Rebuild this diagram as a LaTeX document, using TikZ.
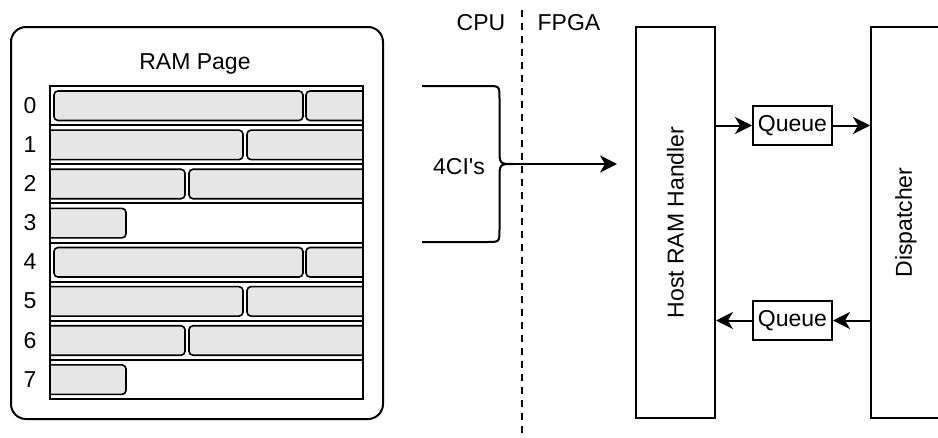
\documentclass[tikz,border=0pt]{standalone}
\usepackage{fontspec}
\setmainfont{Liberation Sans}[Ligatures=TeXOff]
\usetikzlibrary{arrows.meta}
\definecolor{cellgray}{RGB}{230,230,230}
\begin{document}
\begin{tikzpicture}[x=1pt,y=-1pt,
  every node/.style={font=\fontsize{23}{27}\selectfont, inner sep=0pt},
  ln/.style={line width=2pt},
  cell/.style={draw, line width=1.6pt, fill=cellgray, rounded corners=4pt},
  arr/.style={ln, -{Stealth[length=17pt,width=17pt,inset=5pt]}},
  blk/.style={draw, ln, rotate=90, minimum width=391pt},
  qbox/.style={draw, ln, minimum width=79pt, minimum height=39pt}]
\useasboundingbox (0,0) rectangle (938,437);

% RAM page container
\node[draw, ln, rounded corners=15pt, minimum width=372pt, minimum height=392pt] (page) at (197,223) {};
\node (title) at (195,64) {RAM Page};

% cells
\begin{scope}
\clip (50,86) rectangle (363,399);
\foreach \k in {0,4} {
  \pgfmathsetmacro{\ta}{86+39.125*\k}
  \pgfmathsetmacro{\tb}{86+39.125*(\k+1)}
  \pgfmathsetmacro{\tc}{86+39.125*(\k+2)}
  \pgfmathsetmacro{\td}{86+39.125*(\k+3)}
  \draw[cell] (54,\ta+5) rectangle (303,\ta+34.5);
  \draw[cell] (306,\ta+5) rectangle (420,\ta+34.5);
  \draw[cell] (10,\tb+5) rectangle (243,\tb+34.5);
  \draw[cell] (247,\tb+5) rectangle (420,\tb+34.5);
  \draw[cell] (10,\tc+5) rectangle (185,\tc+34.5);
  \draw[cell] (189,\tc+5) rectangle (420,\tc+34.5);
  \draw[cell] (10,\td+5) rectangle (126,\td+34.5);
}
\end{scope}
\foreach \i in {1,...,7} {
  \draw[ln] (50,86+39.125*\i) -- (363,86+39.125*\i);
}
\node[draw, ln, minimum width=313pt, minimum height=313pt] (mem) at (206.5,242.5) {};

% row numbers
\foreach \i in {0,...,7} {
  \node (n\i) at (30,105.5+39.125*\i) {\i};
}

% CPU / FPGA divider
\coordinate (dtop) at (522,10);
\coordinate (dbot) at (522,437);
\draw[ln, dash pattern=on 7pt off 6pt] (dtop) -- (dbot);
\node (cpu) at (481,23) {CPU};
\node (fpga) at (569,23) {FPGA};

% brace
\coordinate (tip) at (513,164);
\coordinate (aend) at (617,164);
\draw[ln] (422,86) -- (487,86) .. controls (499.5,86) .. (499.5,98.5) -- (499.5,148)
  .. controls (499.5,164) .. (tip);
\draw[ln] (tip) .. controls (499.5,164) .. (499.5,180) -- (499.5,229.5)
  .. controls (499.5,242) .. (487,242) -- (422,242);
\node (lbl) at (459,167) {4CI's};
\draw[arr] (tip) -- (aend);

% FPGA blocks
\node[blk, minimum height=79pt] (host) at (675.5,222.5) {Host RAM Handler};
\node[blk, minimum height=70pt] (disp) at (906,222.5) {Dispatcher};
\node[qbox] (q1) at (792.5,125.5) {Queue};
\node[qbox] (q2) at (792.5,320.5) {Queue};

\draw[arr] (q1 -| host.south) -- (q1.west);
\draw[arr] (q1.east) -- (q1 -| disp.north);
\draw[arr] (q2 -| disp.north) -- (q2.east);
\draw[arr] (q2.west) -- (q2 -| host.south);
\end{tikzpicture}
\end{document}
